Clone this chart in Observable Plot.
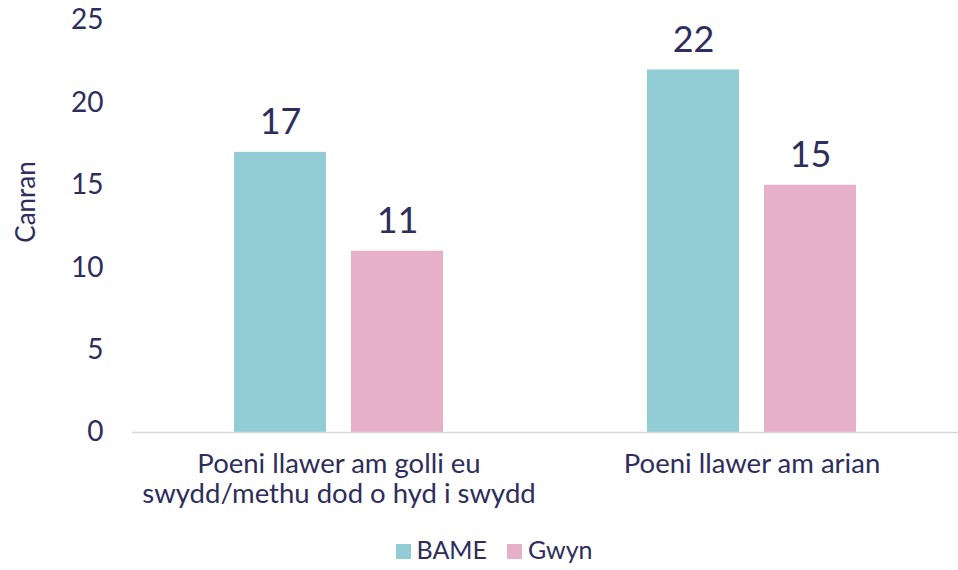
<!DOCTYPE html>
<html>
<head>
<meta charset="utf-8">
<script src="https://cdn.jsdelivr.net/npm/d3@7"></script>
<script src="https://cdn.jsdelivr.net/npm/@observablehq/plot@0.6"></script>
<style>
  body { margin: 0; background: #fff; font-family: Lato, "Open Sans", sans-serif; color: #2e2d5c; }
  #chart { position: relative; width: 958px; }
  .legend { display: flex; justify-content: center; gap: 20px; font-size: 25px; margin-top: 14px; margin-left: 30px; }
  .legend span.sw { display: inline-block; width: 15px; height: 15px; margin-right: 6px; vertical-align: 0px; }
</style>
</head>
<body>
<div id="chart"></div>
<script>
const categories = ["Poeni llawer am golli eu\nswydd/methu dod o hyd i swydd", "Poeni llawer am arian"];
const series = ["BAME", "Gwyn"];
const bame = [17, 22];
const gwyn = [11, 15];
const colors = ["#92cdd6", "#e5b0c8"];
const yTicks = [0, 5, 10, 15, 20, 25];

const data = [];
categories.forEach((c, i) => {
  data.push({cat: c, series: "BAME", value: bame[i]});
  data.push({cat: c, series: "Gwyn", value: gwyn[i]});
});

const textColor = "#2e2d5c";
const plot = Plot.plot({
  width: 958,
  height: 520,
  marginLeft: 132,
  marginRight: 0,
  marginTop: 20,
  marginBottom: 88,
  style: {fontFamily: "Lato, 'Open Sans', sans-serif", color: textColor, background: "#fff"},
  fx: {domain: categories, padding: 0, axis: null},
  x: {domain: series, paddingInner: 0.212, paddingOuter: 0.86, axis: null},
  y: {domain: [0, 25], ticks: yTicks, axis: null},
  color: {domain: series, range: colors},
  marks: [
    Plot.axisY({ticks: yTicks, tickSize: 0, tickPadding: 29, fontSize: 28, fill: textColor, label: null, facetAnchor: "left"}),
    Plot.barY(data, {fx: "cat", x: "series", y: "value", fill: "series"}),
    Plot.ruleY([0], {stroke: "#d9d9d9", strokeWidth: 1.5}),
    Plot.text(data, {fx: "cat", x: "series", y: "value", text: d => String(d.value), lineAnchor: "bottom", dy: -18, fontSize: 36, fill: textColor}),
    Plot.text(categories, {fx: d => d, text: d => d, frameAnchor: "bottom", lineAnchor: "top", dy: 19, fontSize: 27.5, lineHeight: 1.1, fill: textColor})
  ]
});

d3.select(plot).append("text")
  .attr("transform", "translate(28,202) rotate(-90)")
  .attr("text-anchor", "middle")
  .attr("dominant-baseline", "middle")
  .attr("font-size", 26)
  .attr("fill", textColor)
  .text("Canran");

const root = document.getElementById("chart");
root.appendChild(plot);
const legend = document.createElement("div");
legend.className = "legend";
series.forEach((s, i) => {
  const item = document.createElement("div");
  item.innerHTML = `<span class="sw" style="background:${colors[i]}"></span>${s}`;
  legend.appendChild(item);
});
root.appendChild(legend);
</script>
</body>
</html>
